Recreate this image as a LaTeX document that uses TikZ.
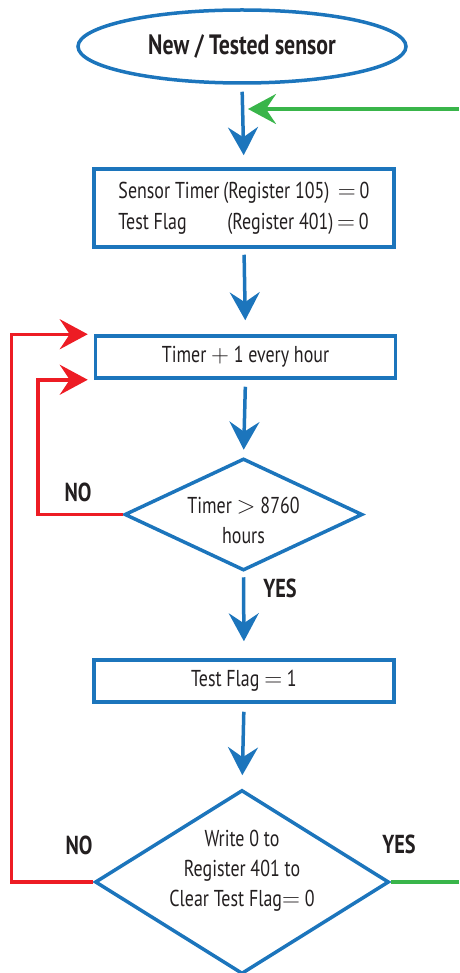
\documentclass[tikz,border=0pt]{standalone}
\usepackage{fontspec}
\setmainfont{PT Sans}[FakeStretch=0.78]
\usepackage{amsmath}
\usetikzlibrary{arrows.meta,shapes.geometric}
\definecolor{flowblue}{RGB}{28,117,188}
\definecolor{loopred}{RGB}{237,28,36}
\definecolor{exitgreen}{RGB}{57,181,74}
\definecolor{ink}{RGB}{35,31,32}
\tikzstyle{terminal}=[ellipse, draw=flowblue, line width=3.5pt, minimum width=328pt, minimum height=73pt, inner sep=0pt, text=ink, font=\bfseries\fontsize{28}{32}\selectfont]
\tikzstyle{process}=[rectangle, draw=flowblue, line width=3.5pt, minimum width=300pt, inner sep=0pt, text=ink, align=center, font=\fontsize{23}{31}\selectfont]
\tikzstyle{decision}=[diamond, draw=flowblue, line width=3.5pt, inner sep=0pt, text=ink, align=center, font=\fontsize{23}{30}\selectfont]
\tikzstyle{answer}=[text=ink, font=\bfseries\fontsize{26}{30}\selectfont]
\tikzstyle{flow}=[draw=flowblue, line width=3.5pt, -{Stealth[length=28pt, width=30pt, inset=10pt]}]
\tikzstyle{noflow}=[draw=loopred, line width=3.5pt, -{Stealth[length=28pt, width=30pt, inset=10pt]}]
\tikzstyle{yesflow}=[draw=exitgreen, line width=3.5pt, -{Stealth[length=28pt, width=30pt, inset=10pt]}]
\tikzstyle{yesline}=[draw=exitgreen, line width=3.5pt, -]

\begin{document}
\begin{tikzpicture}[x=1pt, y=-1pt]
		\clip (0,0) rectangle (459,973);
		% First we draw the boxes
		\node[terminal] (start) at (242,46.5) {New / Tested sensor};
		\node[process, minimum height=78pt] (init) at (244,208)
			{\begin{tabular}{@{}l@{\,}l@{}}
				Sensor Timer & (Register 105) \,$=$\,0\\
				Test Flag & \hspace{4pt}(Register 401)\,$=$\,0
			\end{tabular}};
		\node[process, minimum height=42pt] (timer) at (245.5,357) {Timer $+$ 1 every hour};
		\node[decision, aspect=2.1, text height=57pt, text depth=0pt,
			minimum width=238pt, minimum height=112pt] (check) at (243.5,514.5) {Timer $>$ 8760\\hours};
		\node[process, minimum height=42pt] (setflag) at (244,681) {Test Flag $=$ 1};
		\node[decision, aspect=1.6, text height=60pt, text depth=12pt,
			minimum width=294pt, minimum height=184pt] (clear) at (242,882)
			{Write 0 to\\Register 401 to\\Clear Test Flag$=$ 0};
		
		% Answers
		\node[answer] (no1) at (78,492) {NO};
		\node[answer] (yes1) at (280,588) {YES};
		\node[answer] (no2) at (79,845) {NO};
		\node[answer] (yes2) at (399,844) {YES};
		
		% Connect boxes with arrows
		\foreach \source/\dest/\startgap/\endgap in {
			start/init/7/12, init/timer/6/14, timer/check/7/7,
			check/setflag/5/17, setflag/clear/8/13}
		\path[flow, shorten <=\startgap pt, shorten >=\endgap pt] (\source.south) -- (\dest.north);
		
		% Loops back
		\path[noflow, shorten >=6pt] (clear.west) -- ++(-82,0) |- (timer.north west);
		\path[noflow, shorten >=6pt] (check.west) -- ++(-85,0) |- (timer.south west);
		\coordinate (exitin) at (459,109);
		\coordinate (exitout) at (459,882);
		\path[yesflow, shorten >=6pt] (exitin) -- (exitin -| start.south);
		\path[yesline] (clear.east) -- (exitout);
		\end{tikzpicture}
\end{document}
